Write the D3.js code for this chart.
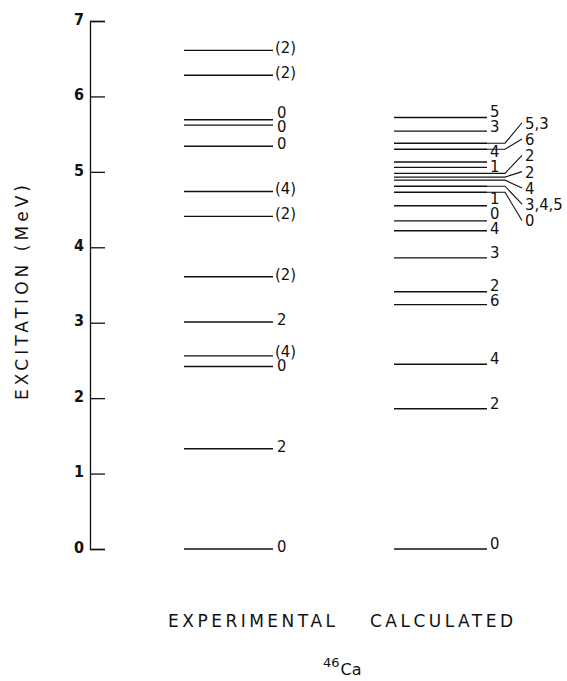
<!DOCTYPE html>
<html>
<head>
<meta charset="utf-8">
<script src="https://cdn.jsdelivr.net/npm/d3@7"></script>
<style>
  html, body { margin: 0; padding: 0; background: #fff; }
  svg { display: block; }
  text { font-family: "DejaVu Sans Condensed", "DejaVu Sans", sans-serif; fill: #111; }
</style>
</head>
<body>
<div id="chart"></div>
<script>
// level energies (MeV) and spins
const axisTicks = [0, 1, 2, 3, 4, 5, 6, 7];

const expEnergy = [0, 1.33, 2.42, 2.56, 3.01, 3.61, 4.41, 4.74, 5.34, 5.62, 5.69, 6.28, 6.61];
const expSpin   = ["0", "2", "0", "(4)", "2", "(2)", "(2)", "(4)", "0", "0", "0", "(2)", "(2)"];

const calcEnergy = [0, 1.86, 2.45, 3.24, 3.41, 3.86, 4.22, 4.35, 4.55, 4.73,
                    4.81, 4.89, 4.93, 4.98, 5.06, 5.13, 5.30, 5.38, 5.54, 5.72];
const calcSpin   = ["0", "2", "4", "6", "2", "3", "4", "0", "1", "0",
                    "3,4,5", "4", "2", "2", "1", "4", "6", "5,3", "3", "5"];

const columnNames = ["EXPERIMENTAL", "CALCULATED"];
const nucleus = { mass: "46", symbol: "Ca" };

/* =========================
   LAYOUT
========================= */
const width = 567, height = 681;
const axisX = 90;
const expX = [184, 273];
const calcX = [394, 487];
// calculated levels whose labels sit in the outer column, joined by a leader
const leadered = new Set([9, 10, 11, 12, 13, 16, 17]);

const svg = d3.select("#chart").append("svg")
  .attr("width", width)
  .attr("height", height);

const y = d3.scaleLinear().domain([0, 7]).range([549, 21]);

/* =========================
   AXIS
========================= */
const axis = svg.append("g")
  .attr("transform", `translate(${axisX},0)`)
  .call(d3.axisLeft(y).tickValues(axisTicks).tickSize(-15).tickPadding(6).tickFormat(d3.format("d")));

axis.select(".domain").attr("stroke", "#111").attr("stroke-width", 1.3);
axis.selectAll(".tick line").attr("stroke", "#111").attr("stroke-width", 1.3);
axis.selectAll(".tick text")
  .attr("fill", "#111")
  .attr("dy", "0.2em")
  .style("font-family", '"DejaVu Sans Condensed", sans-serif')
  .style("font-size", "16px")
  .style("font-weight", "600");

svg.append("text")
  .attr("transform", `translate(28,${y(3.4)}) rotate(-90)`)
  .attr("text-anchor", "middle")
  .attr("textLength", 215)
  .attr("lengthAdjust", "spacing")
  .style("font-family", '"DejaVu Sans", sans-serif')
  .style("font-size", "17px")
  .attr("fill", "#222")
  .text("EXCITATION (MeV)");

/* =========================
   LABEL SPREADING
========================= */
// push overlapping labels apart, each cluster centred on its targets
function dodge(items, gap) {
  items.sort((a, b) => a.target - b.target);
  const clusters = [];
  const place = c => { c.start = c.sum / c.items.length - (c.items.length - 1) * gap / 2; };
  items.forEach(it => {
    const c = { items: [it], sum: it.target };
    place(c);
    clusters.push(c);
    while (clusters.length > 1) {
      const prev = clusters[clusters.length - 2];
      const last = clusters[clusters.length - 1];
      if (prev.start + prev.items.length * gap <= last.start) break;
      prev.items = prev.items.concat(last.items);
      prev.sum += last.sum;
      clusters.pop();
      place(prev);
    }
  });
  clusters.forEach(c => c.items.forEach((it, i) => { it.pos = c.start + i * gap; }));
  return items;
}

const labelStyle = sel => sel
  .style("font-family", '"DejaVu Sans Condensed", sans-serif')
  .style("font-size", "16.5px");

/* =========================
   EXPERIMENTAL
========================= */
const expLevels = expEnergy.map((e, i) => ({ e, spin: expSpin[i], target: y(e) + 3 }));

svg.append("g").selectAll("line")
  .data(expLevels)
  .join("line")
  .attr("x1", expX[0]).attr("x2", expX[1])
  .attr("y1", d => y(d.e)).attr("y2", d => y(d.e))
  .attr("stroke", "#111").attr("stroke-width", 1.4);

svg.append("g").selectAll("text")
  .data(dodge(expLevels.slice(), 14))
  .join("text")
  .attr("x", d => expX[1] + (d.spin.startsWith("(") ? 2 : 4))
  .attr("y", d => d.pos)
  .call(labelStyle)
  .text(d => d.spin);

/* =========================
   CALCULATED
========================= */
const calcLevels = calcEnergy.map((e, i) => ({ e, spin: calcSpin[i], lead: leadered.has(i) }));

svg.append("g").selectAll("line")
  .data(calcLevels)
  .join("line")
  .attr("x1", calcX[0]).attr("x2", calcX[1])
  .attr("y1", d => y(d.e)).attr("y2", d => y(d.e))
  .attr("stroke", "#111").attr("stroke-width", 1.4);

const direct = dodge(calcLevels.filter(d => !d.lead).map(d => ({ ...d, target: y(d.e) })), 15);
const outer = dodge(calcLevels.filter(d => d.lead).map(d => ({ ...d, target: y(d.e) })), 16.3);

svg.append("g").selectAll("text")
  .data(direct)
  .join("text")
  .attr("x", calcX[1] + 3)
  .attr("y", d => d.pos)
  .call(labelStyle)
  .text(d => d.spin);

svg.append("g").selectAll("path")
  .data(outer)
  .join("path")
  .attr("d", d => `M${calcX[1]},${y(d.e)}H${calcX[1] + 18}L${calcX[1] + 35},${d.pos}`)
  .attr("fill", "none")
  .attr("stroke", "#111")
  .attr("stroke-width", 1.1);

svg.append("g").selectAll("text")
  .data(outer)
  .join("text")
  .attr("x", calcX[1] + 38)
  .attr("y", d => d.pos)
  .attr("dy", "0.36em")
  .call(labelStyle)
  .text(d => d.spin);

/* =========================
   COLUMN TITLES
========================= */
const titleSpan = [[168, 335], [370, 513]];

svg.append("g").selectAll("text")
  .data(columnNames)
  .join("text")
  .attr("x", (d, i) => titleSpan[i][0])
  .attr("y", 627)
  .attr("textLength", (d, i) => titleSpan[i][1] - titleSpan[i][0])
  .attr("lengthAdjust", "spacing")
  .style("font-family", '"DejaVu Sans", sans-serif')
  .style("font-size", "17px")
  .attr("fill", "#222")
  .text(d => d);

const nuc = svg.append("text")
  .attr("x", 323)
  .attr("y", 675)
  .style("font-family", '"DejaVu Sans", sans-serif')
  .attr("fill", "#222");
nuc.append("tspan").attr("dy", -8).style("font-size", "13px").text(nucleus.mass);
nuc.append("tspan").attr("dy", 8).attr("dx", 1).style("font-size", "16px").text(nucleus.symbol);
</script>
</body>
</html>
